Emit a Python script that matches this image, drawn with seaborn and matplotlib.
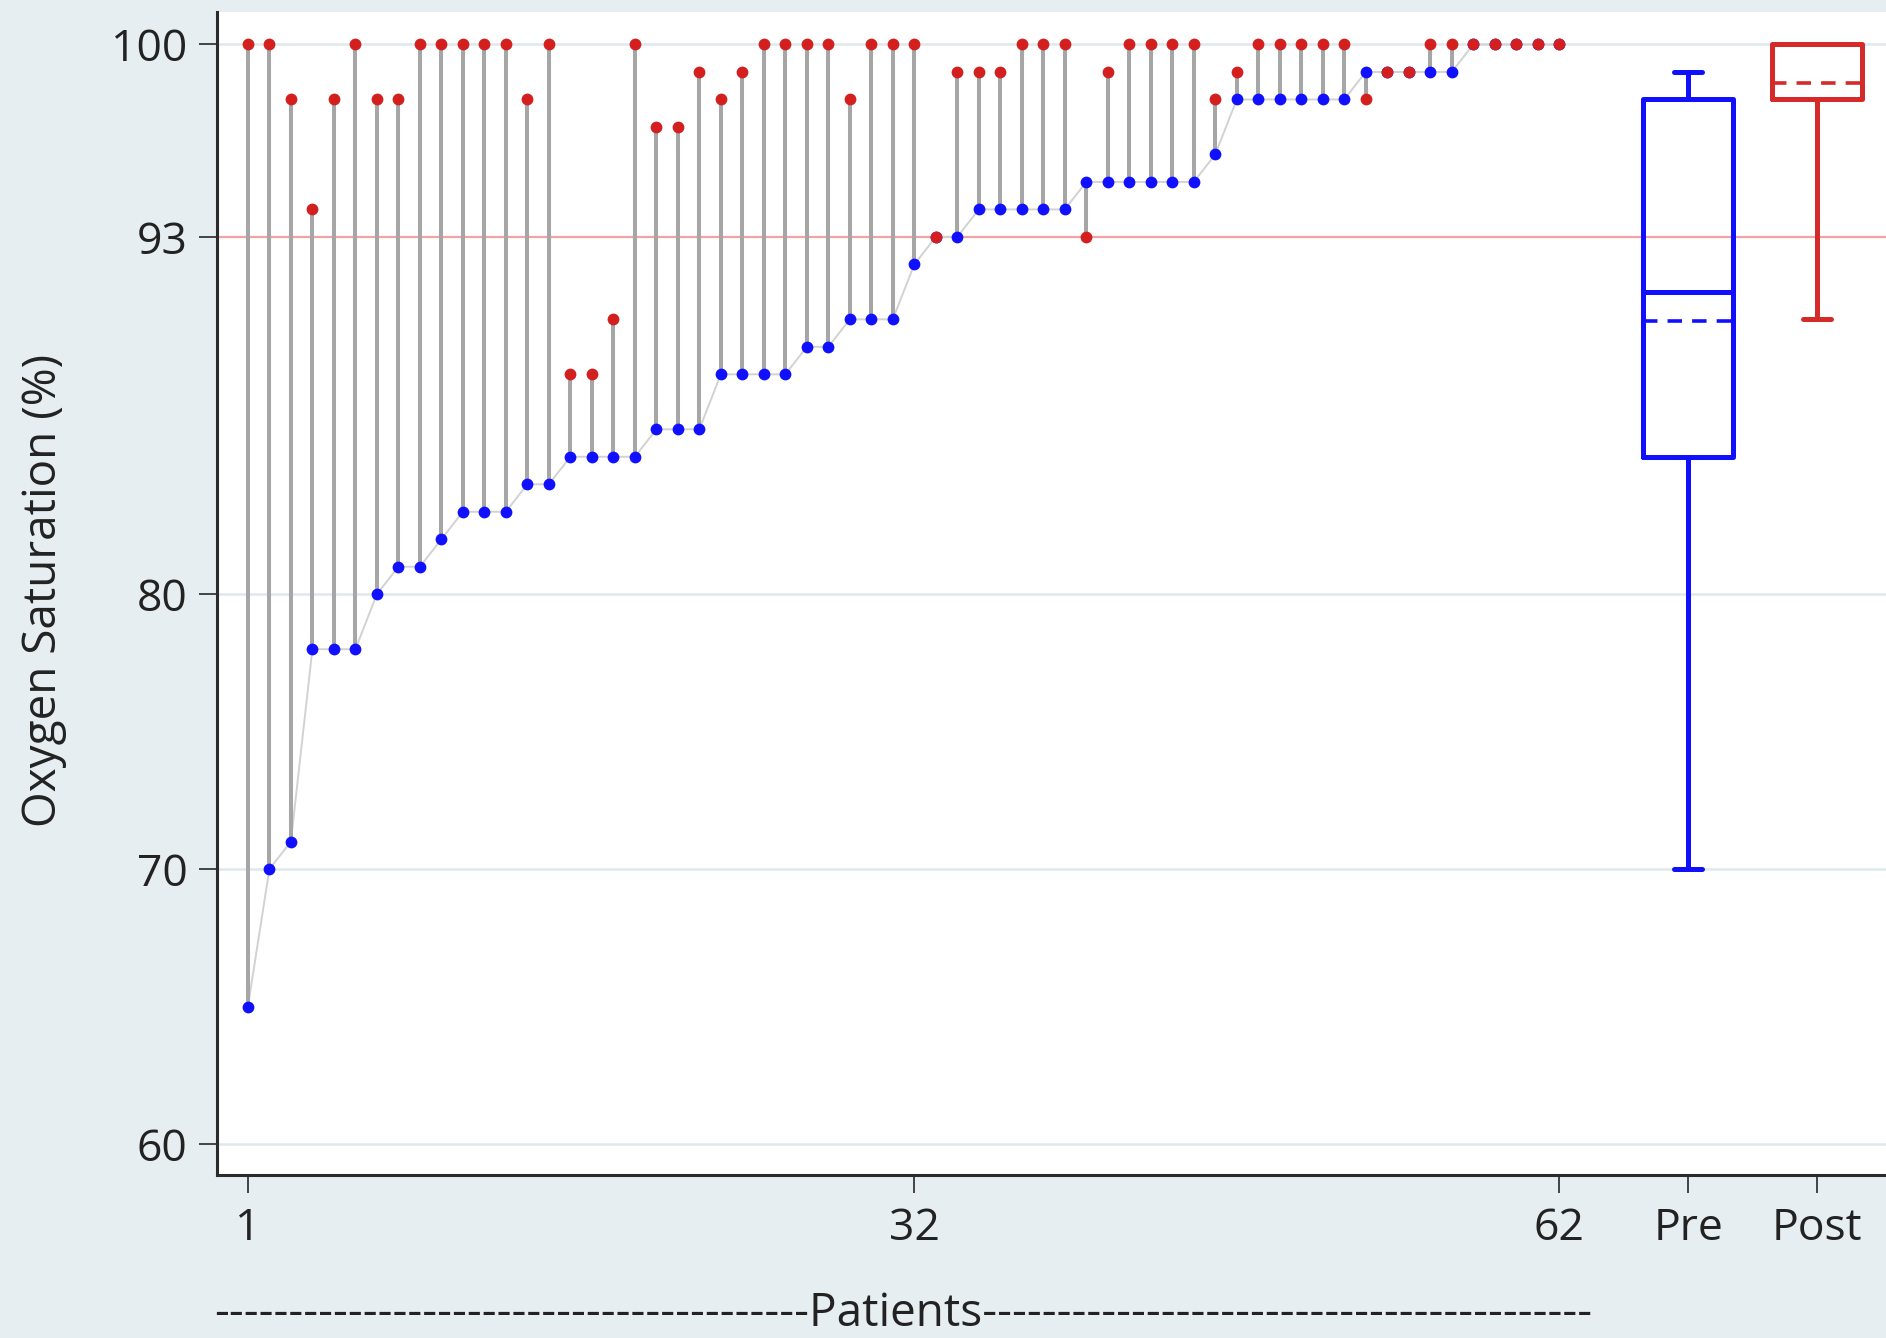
import numpy as np
import pandas as pd
import matplotlib
matplotlib.use("Agg")
import matplotlib.pyplot as plt
import matplotlib.transforms as mtransforms
import seaborn as sns

# Oxygen saturation before and after treatment, one pair per patient
pre_sat = [65, 70, 71, 78, 78, 78, 80, 81, 81, 82,
           83, 83, 83, 84, 84, 85, 85, 85, 85, 86,
           86, 86, 88, 88, 88, 88, 89, 89, 90, 90,
           90, 92, 93, 93, 94, 94, 94, 94, 94, 95,
           95, 95, 95, 95, 95, 96, 98, 98, 98, 98,
           98, 98, 99, 99, 99, 99, 99, 100, 100, 100, 100, 100]
post_sat = [100, 100, 98, 94, 98, 100, 98, 98, 100, 100,
            100, 100, 100, 98, 100, 88, 88, 90, 100, 97,
            97, 99, 98, 99, 100, 100, 100, 100, 98, 100,
            100, 100, 93, 99, 99, 99, 100, 100, 100, 93,
            99, 100, 100, 100, 100, 98, 99, 100, 100, 100,
            100, 100, 98, 99, 99, 100, 100, 100, 100, 100, 100, 100]
patients = list(range(1, len(pre_sat) + 1))

# Box summaries (Pre, Post)
box_labels = ["Pre", "Post"]
box_q1 = [85, 98]
box_median = [91, 100]
box_q3 = [98, 100]
box_whisker_low = [70, 90]
box_whisker_high = [99, 100]

x_ticks = [1, 32, 62, 68, 74]
x_ticklabels = ["1", "32", "62", "Pre", "Post"]
y_ticks = [60, 70, 80, 93, 100]
threshold = 93

BG = "#e6eef1"
BLUE = "#1010ff"
RED = "#d41f1f"
RED_BOX = "#d42a2a"

sns.set_style("white")
plt.rcParams["font.family"] = ["Open Sans", "DejaVu Sans"]

df = pd.DataFrame({"patient": patients, "pre": pre_sat, "post": post_sat})

fig = plt.figure(figsize=(18.86, 13.38), dpi=100, facecolor=BG)
ax = fig.add_axes([0.1148, 0.1218, 0.8852, 0.8692])
ax.set_facecolor("white")

# horizontal reference grid
for yv in [60, 70, 80, 100]:
    ax.axhline(yv, color="#dfe9ed", lw=1.8, zorder=0)
ax.axhline(threshold, color="#f2a3a3", lw=1.6, zorder=1)

# light line joining the pre-treatment values
sns.lineplot(data=df, x="patient", y="pre", color="#d2d2d2", lw=1.4,
             ax=ax, zorder=2, legend=False)

# change per patient
ax.vlines(df["patient"], df["pre"], df["post"], color="#a6a6a6", lw=2.9, zorder=3)

sns.scatterplot(data=df, x="patient", y="pre", color=BLUE, s=72,
                linewidth=0, ax=ax, zorder=4, legend=False)
sns.scatterplot(data=df, x="patient", y="post", color=RED, s=72,
                linewidth=0, ax=ax, zorder=5, legend=False)

# summary boxes
means = [float(np.mean(pre_sat)), float(np.mean(post_sat))]
for i, (pos, col) in enumerate(zip([68, 74], [BLUE, RED_BOX])):
    stats = [{
        "label": box_labels[i],
        "q1": box_q1[i], "med": box_median[i], "q3": box_q3[i],
        "whislo": box_whisker_low[i], "whishi": box_whisker_high[i],
        "mean": means[i], "fliers": [],
    }]
    lw = 3.6
    ax.bxp(stats, positions=[pos], widths=4.2, capwidths=1.3,
           showmeans=True, meanline=True, showfliers=False,
           boxprops=dict(color=col, lw=lw),
           medianprops=dict(color=col, lw=lw),
           whiskerprops=dict(color=col, lw=lw),
           capprops=dict(color=col, lw=lw),
           meanprops=dict(color=col, lw=2.6, linestyle=(0, (4, 2.8))),
           manage_ticks=False, zorder=6)

ax.set_xlim(-0.46, 77.2)
ax.set_ylim(58.87, 101.18)
ax.set_xticks(x_ticks)
ax.set_xticklabels(x_ticklabels)
ax.set_yticks(y_ticks)
ax.set_xlabel("")
ax.set_ylabel("")

for side in ["top", "right"]:
    ax.spines[side].set_visible(False)
for side in ["left", "bottom"]:
    ax.spines[side].set_color("#2b2b2b")
    ax.spines[side].set_linewidth(2.2)

ax.tick_params(axis="both", which="major", length=13, width=1.4,
               color="#444444", labelsize=32, labelcolor="#222222",
               direction="out", left=True, bottom=True)
ax.tick_params(axis="x", pad=10)
ax.tick_params(axis="y", pad=8)

fig.text(44 / 1886, 1 - 590 / 1338, "Oxygen Saturation (%)", rotation=90,
         ha="center", va="center", fontsize=33, color="#222222")

trans = mtransforms.blended_transform_factory(ax.transData, fig.transFigure)
ax.text(31.5, 1 - 1326 / 1338, "-" * 40 + "Patients" + "-" * 41,
        transform=trans, ha="center", va="baseline", fontsize=33,
        color="#222222", clip_on=False)

fig.savefig("out.png", dpi=100, facecolor=BG)
